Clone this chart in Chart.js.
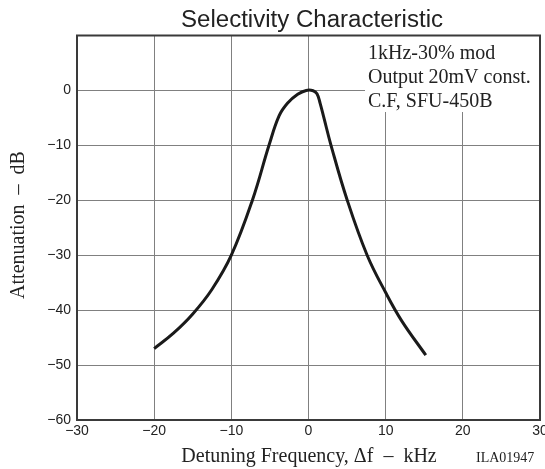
<!DOCTYPE html>
<html>
<head>
<meta charset="utf-8">
<script src="https://cdn.jsdelivr.net/npm/chart.js@4"></script>
<style>
  html, body { margin: 0; padding: 0; background: #fff; }
  #wrap { width: 545px; height: 469px; }
</style>
</head>
<body>
<div id="wrap"><canvas id="graph--selectivity" width="545" height="469"></canvas></div>
<script>
// Detuning frequency (kHz) and attenuation (dB)
const detuning = [-20, -17.5, -15, -12.5, -10, -7.25, -5.1, -3.8, -2.7, -1.4, -0.3, 0.6, 1.1, 1.5, 2.0, 2.9, 5.0, 7.6, 10, 12.1, 15.2]
const attenuation = [-47, -44.2, -40.7, -36.2, -30, -19.9, -9.9, -4.6, -2.3, -0.7, 0, -0.05, -0.6, -2.3, -5, -9.9, -19.9, -30, -36.8, -42, -48.2]
// Axis ranges / ticks
const xTicks = [-30, -20, -10, 0, 10, 20, 30]
const yTicks = [-60, -50, -40, -30, -20, -10, 0, 10]
// Texts
const title = 'Selectivity Characteristic'
const xTitle = 'Detuning Frequency, \u0394f  \u2013  kHz'
const yTitle = 'Attenuation  \u2013  dB'
const notes = ['1kHz-30% mod', 'Output 20mV const.', 'C.F, SFU-450B']
const figId = 'ILA01947'

const SANS = '"Liberation Sans", Arial, sans-serif'
const SERIF = '"Liberation Serif", "Times New Roman", serif'
const minus = v => (v < 0 ? '\u2212' + Math.abs(v) : String(v))

const points = detuning.map((f, i) => ({ x: f, y: attenuation[i] }))

// draws text squeezed/stretched to a given width
function fitText(ctx, text, cx, y, width) {
  const w = ctx.measureText(text).width
  ctx.save()
  ctx.translate(cx, y)
  ctx.scale(width / w, 1)
  ctx.textAlign = 'center'
  ctx.fillText(text, 0, 0)
  ctx.restore()
}

// white box for the notes + frame + free texts
const decorations = {
  id: 'decorations',
  beforeDatasetsDraw(chart) {
    const { ctx, chartArea: a } = chart
    ctx.save()
    ctx.fillStyle = '#fff'
    ctx.fillRect(365, a.top, a.right - 365, 112 - a.top)
    ctx.restore()
  },
  afterDatasetsDraw(chart) {
    const { ctx, chartArea: a } = chart
    ctx.save()
    ctx.strokeStyle = '#3a3a3a'
    ctx.lineWidth = 2
    ctx.strokeRect(a.left, a.top, a.right - a.left, a.bottom - a.top)
    ctx.restore()
  },
  afterDraw(chart) {
    const { ctx } = chart
    ctx.save()
    ctx.fillStyle = '#222'
    ctx.textBaseline = 'alphabetic'

    ctx.font = '23px ' + SANS
    fitText(ctx, title, 312, 26.5, 262)

    ctx.font = '20px ' + SERIF
    ctx.textAlign = 'left'
    notes.forEach((t, i) => ctx.fillText(t, 368, 58.5 + i * 24))

    ctx.textAlign = 'center'
    ctx.fillText(xTitle, 309, 461.5)

    ctx.font = '14px ' + SERIF
    ctx.textAlign = 'left'
    ctx.fillText(figId, 476, 461.5)

    ctx.font = '20px ' + SERIF
    ctx.translate(24, 225)
    ctx.rotate(-Math.PI / 2)
    ctx.textAlign = 'center'
    ctx.fillText(yTitle, 0, 0)
    ctx.restore()
  }
}

const selectivity = document.querySelector('#graph--selectivity')

const selectivityChart = new Chart(selectivity, {
  type: 'scatter',
  data: {
    datasets: [
      {
        data: points,
        showLine: true,
        borderColor: '#1a1a1a',
        borderWidth: 3,
        pointRadius: 0,
        tension: 0.4,
        fill: false
      }
    ]
  },
  options: {
    responsive: false,
    animation: false,
    layout: { padding: { left: 0, right: 5, top: 35.5, bottom: 0 } },
    plugins: { legend: { display: false }, tooltip: { enabled: false } },
    scales: {
      x: {
        type: 'linear',
        min: xTicks[0],
        max: xTicks[xTicks.length - 1],
        afterBuildTicks: s => { s.ticks = xTicks.map(v => ({ value: v })) },
        afterFit: s => { s.height = 49; s.paddingLeft = 0; s.paddingRight = 0 },
        grid: { color: '#808080', lineWidth: 1, drawTicks: false },
        border: { color: '#3a3a3a', width: 2 },
        ticks: {
          padding: 3,
          color: '#222',
          font: { family: SANS, size: 14 },
          maxRotation: 0,
          callback: v => minus(v)
        }
      },
      y: {
        type: 'linear',
        min: yTicks[0],
        max: yTicks[yTicks.length - 1],
        afterBuildTicks: s => { s.ticks = yTicks.map(v => ({ value: v })) },
        afterFit: s => { s.width = 77; s.paddingTop = 0; s.paddingBottom = 0 },
        grid: { color: '#808080', lineWidth: 1, drawTicks: false },
        border: { color: '#3a3a3a', width: 2 },
        ticks: {
          padding: 6,
          color: '#222',
          font: { family: SANS, size: 14 },
          callback: v => (v === 10 ? null : minus(v))
        }
      }
    }
  },
  plugins: [decorations]
})
</script>
</body>
</html>
